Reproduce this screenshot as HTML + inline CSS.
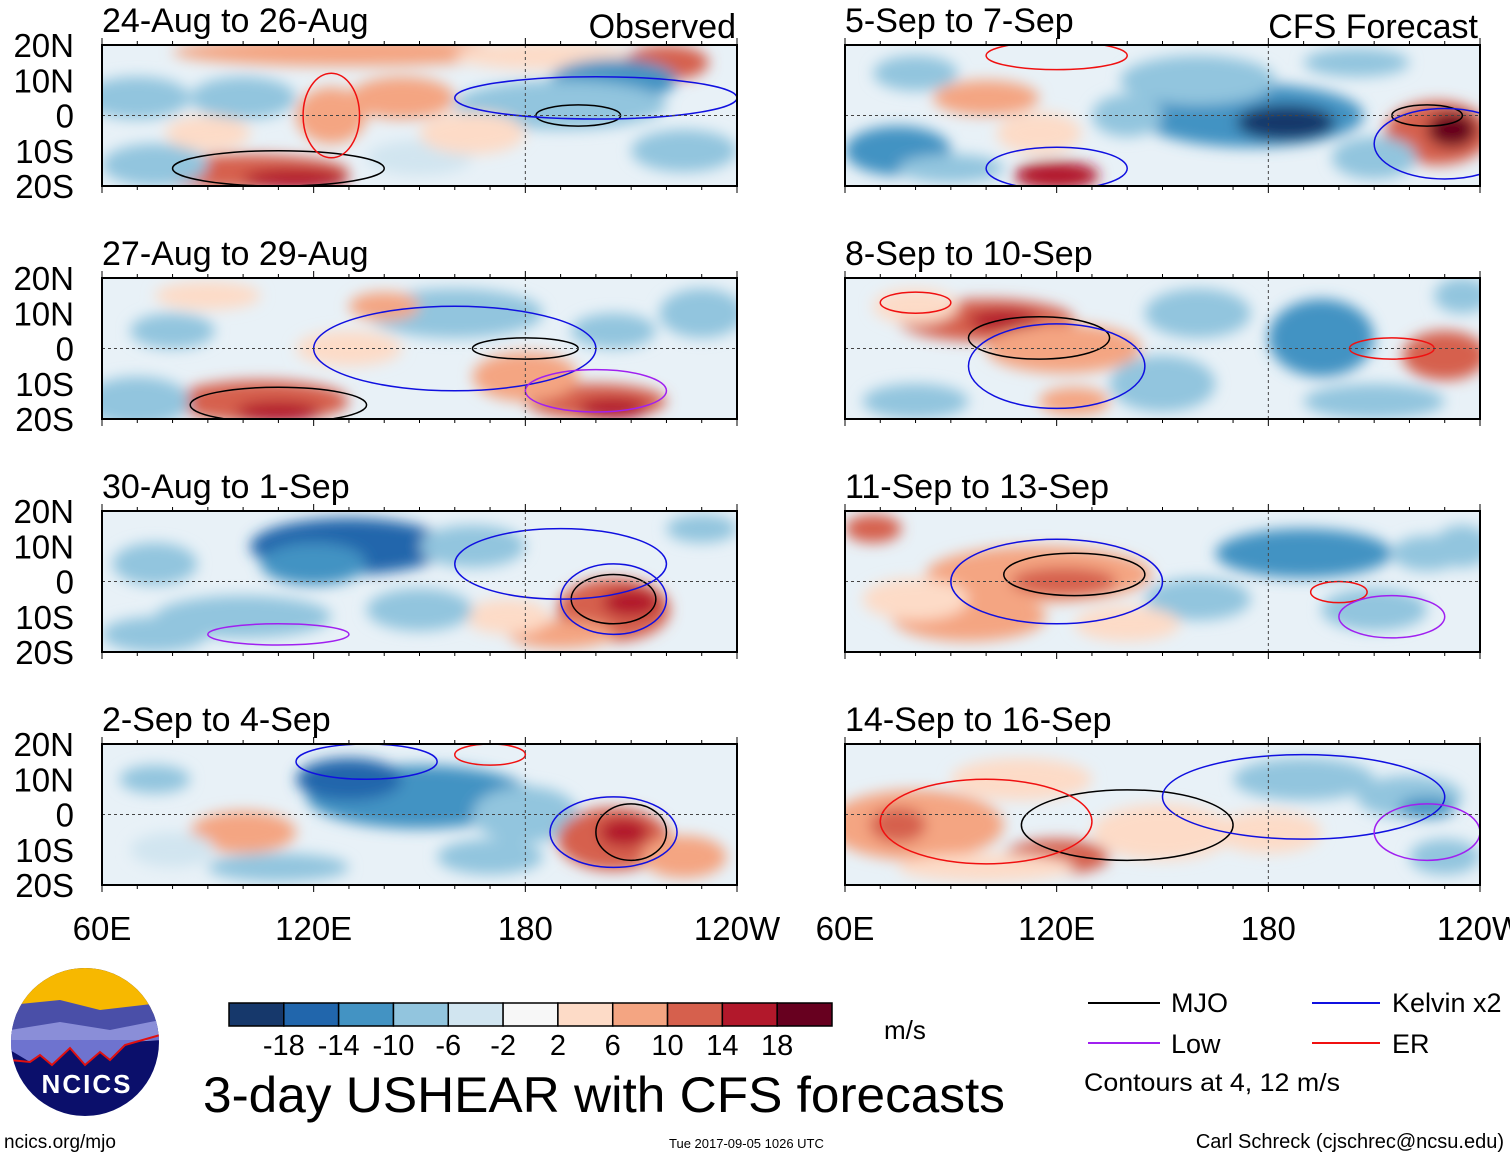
<!DOCTYPE html>
<html><head><meta charset="utf-8">
<style>
html,body{margin:0;padding:0;background:#fff;}
body{width:1510px;height:1158px;overflow:hidden;font-family:"Liberation Sans",sans-serif;}
svg text{font-family:"Liberation Sans",sans-serif;fill:#000;}
</style></head>
<body>
<svg id="fig" width="1510" height="1158" viewBox="0 0 1510 1158" xmlns="http://www.w3.org/2000/svg">
<defs>
<filter id="blur" x="-20%" y="-50%" width="140%" height="200%"><feGaussianBlur stdDeviation="7"/></filter>
</defs>
<g id="panels"></g>
<g id="axes"></g>
<g id="colorbar"></g>
<g>
<clipPath id="logoclip"><circle cx="85" cy="1042" r="74"/></clipPath>
<g clip-path="url(#logoclip)">
<rect x="10" y="968" width="150" height="150" fill="#0b0f6b"/>
<rect x="10" y="968" width="150" height="45" fill="#f7b800"/>
<path d="M10 1005 L60 1000 L100 1010 L160 1003 L160 1030 L10 1035Z" fill="#4a4fa8"/>
<path d="M10 1030 L60 1022 L110 1030 L160 1020 L160 1040 L10 1050Z" fill="#8a8ed8"/>
<path d="M10 1050 L30 1062 L40 1055 L52 1065 L70 1048 L85 1065 L100 1052 L110 1060 L125 1045 L160 1035 L160 1040 L10 1040Z" fill="#6e73cf"/>
<path d="M10 1060 L30 1062 L40 1055 L52 1065 L70 1048 L85 1065 L100 1052 L110 1060 L125 1045 L160 1035" fill="none" stroke="#e01010" stroke-width="2"/>
</g>
<text x="87" y="1093" font-size="26" font-weight="bold" text-anchor="middle" style="fill:#fff" letter-spacing="2">NCICS</text>
</g>
<text x="4" y="1148" font-size="19">ncics.org/mjo</text>
<text x="669" y="1148" font-size="13">Tue 2017-09-05 1026 UTC</text>
<text x="1504" y="1148" font-size="20" text-anchor="end">Carl Schreck (cjschrec@ncsu.edu)</text>
<text x="203" y="1112" font-size="50" textLength="802" lengthAdjust="spacingAndGlyphs">3-day USHEAR with CFS forecasts</text>
<text x="884" y="1039" font-size="26">m/s</text>
<g>
<line x1="1088" y1="1003" x2="1160" y2="1003" stroke="#000" stroke-width="2"/><text x="1171" y="1012" font-size="27">MJO</text>
<line x1="1312" y1="1003" x2="1380" y2="1003" stroke="#1010e0" stroke-width="2"/><text x="1392" y="1012" font-size="27">Kelvin x2</text>
<line x1="1088" y1="1043" x2="1160" y2="1043" stroke="#a020f0" stroke-width="2"/><text x="1171" y="1053" font-size="27">Low</text>
<line x1="1312" y1="1043" x2="1380" y2="1043" stroke="#f01010" stroke-width="2"/><text x="1392" y="1053" font-size="27">ER</text>
<text x="1084" y="1091" font-size="25" textLength="256" lengthAdjust="spacingAndGlyphs">Contours at 4, 12 m/s</text>
</g>
</svg>
<script>
const levels=[-18,-14,-10,-6,-2,2,6,10,14,18];
const colors=["#16386b","#2166ac","#4393c3","#92c5de","#d1e5f0","#f7f7f7","#fddbc7","#f4a582","#d6604d","#b2182b","#67001f"];
const panelTitles=["24-Aug to 26-Aug","5-Sep to 7-Sep","27-Aug to 29-Aug","8-Sep to 10-Sep","30-Aug to 1-Sep","11-Sep to 13-Sep","2-Sep to 4-Sep","14-Sep to 16-Sep"];
const latTicks=["20N","10N","0","10S","20S"];
const lonTicks=["60E","120E","180","120W"];
// blobs: [lon, lat, lonRadius, latRadius, value m/s]
const blobs0=[[70,5,15,6,-6],[130,18,50,4,8],[185,17,25,4,4],[220,15,12,5,12],[205,10,18,6,-10],[190,3,30,7,-6],[100,-16,30,5,14],[115,-18,15,3,18],[75,-14,15,6,-6],[150,-12,15,5,-4],[225,-10,15,6,-8],[145,5,15,6,8],[125,0,10,8,10],[100,5,15,6,-6],[165,-5,15,6,6],[90,-5,12,5,6]];
const blobs1=[[175,0,32,9,-12],[185,-2,14,5,-18],[160,10,22,7,-8],[228,-5,15,9,14],[232,-4,7,5,20],[120,-17,12,4,18],[100,5,15,5,8],[75,-10,15,7,-10],[205,15,15,4,-6],[90,-15,15,4,-6],[115,-5,12,6,6],[80,12,12,5,-6],[140,0,10,6,-6],[210,-12,12,6,-6]];
const blobs2=[[105,-15,25,6,14],[110,-18,12,3,18],[200,-15,20,5,14],[205,-17,10,3,18],[180,-8,15,7,8],[230,10,12,7,-8],[160,10,25,7,-6],[70,-15,15,7,-8],[90,15,15,4,6],[140,12,10,4,8],[80,5,12,5,-6],[130,0,15,5,6],[205,5,12,5,-6]];
const blobs3=[[100,8,25,6,12],[105,8,10,3,18],[122,0,22,7,8],[195,3,15,11,-12],[230,-2,12,7,14],[125,-15,10,4,10],[150,-10,15,8,-8],[80,-15,15,5,-8],[210,-15,20,5,-6],[160,10,15,7,-6],[80,12,12,5,6],[235,15,8,5,-6]];
const blobs4=[[130,10,28,8,-14],[120,5,15,6,-12],[100,-10,25,6,-6],[205,-8,16,9,12],[210,-6,8,4,16],[190,-15,15,4,8],[230,15,10,4,-6],[75,-15,15,5,-8],[165,10,15,6,-6],[75,5,12,6,-6],[175,-10,12,5,6],[150,-8,15,6,-6]];
const blobs5=[[68,15,8,4,14],[115,2,32,8,8],[122,0,15,4,14],[95,-10,22,7,8],[190,8,25,7,-10],[210,-8,15,6,-8],[160,-5,15,6,-6],[235,10,8,6,-6],[80,-5,15,6,6],[140,-12,15,5,6],[225,8,10,5,-6]];
const blobs6=[[150,5,32,9,-10],[130,10,15,6,-14],[180,0,15,8,-8],[205,-7,16,9,12],[208,-5,7,4,16],[75,10,10,4,-6],[110,-15,20,4,-6],[100,-5,15,6,8],[170,-12,15,5,-6],[80,-10,12,5,-4],[225,-12,12,6,8]];
const blobs7=[[80,-3,25,10,10],[75,-3,8,5,14],[110,10,20,6,6],[120,-12,15,5,12],[100,-15,25,4,6],[220,5,15,6,-8],[225,2,8,3,-12],[190,10,20,6,-6],[180,-5,15,6,6],[150,-5,20,8,4],[230,-12,10,5,-6]];
const panelBlobs=[blobs0,blobs1,blobs2,blobs3,blobs4,blobs5,blobs6,blobs7];
// contour ellipses per panel: [lon, lat, lonR, latR, type]
const contours=[[[195,0,12,3,"mjo"],[110,-15,30,5,"mjo"],[200,5,40,6,"kelvin"],[125,0,8,12,"er"]],
[[225,0,10,3,"mjo"],[230,-8,20,10,"kelvin"],[120,-15,20,6,"kelvin"],[120,17,20,4,"er"]],
[[180,0,15,3,"mjo"],[110,-16,25,5,"mjo"],[160,0,40,12,"kelvin"],[200,-12,20,6,"low"]],
[[115,3,20,6,"mjo"],[120,-5,25,12,"kelvin"],[80,13,10,3,"er"],[215,0,12,3,"er"]],
[[205,-5,12,7,"mjo"],[205,-5,15,10,"kelvin"],[190,5,30,10,"kelvin"],[110,-15,20,3,"low"]],
[[125,2,20,6,"mjo"],[120,0,30,12,"kelvin"],[200,-3,8,3,"er"],[215,-10,15,6,"low"]],
[[210,-5,10,8,"mjo"],[205,-5,18,10,"kelvin"],[135,15,20,5,"kelvin"],[170,17,10,3,"er"]],
[[140,-3,30,10,"mjo"],[100,-2,30,12,"er"],[190,5,40,12,"kelvin"],[225,-5,15,8,"low"]]];
const strokeCol={mjo:"#000",kelvin:"#1010e0",er:"#f01010",low:"#a020f0"};
const W=635,H=141;
const colX=[102,845],rowY=[45,278,511,744];
const NS="http://www.w3.org/2000/svg";
function mk(tag,attrs,parent){const e=document.createElementNS(NS,tag);for(const k in attrs)e.setAttribute(k,attrs[k]);parent.appendChild(e);return e;}
function colorFor(v){let i=0;while(i<levels.length&&v>levels[i])i++;return colors[i];}
const pg=document.getElementById('panels'),ag=document.getElementById('axes');
for(let p=0;p<8;p++){
  const x0=colX[p%2],y0=rowY[Math.floor(p/2)];
  const xs=lon=>x0+(lon-60)/180*W, ys=lat=>y0+(20-lat)/40*H;
  const g=mk('g',{},pg);
  
  
  const cp=mk('clipPath',{id:'cp'+p},g);mk('rect',{x:x0,y:y0,width:W,height:H},cp);
  const inner=mk('g',{'clip-path':'url(#cp'+p+')'},g);
  mk('rect',{x:x0,y:y0,width:W,height:H,fill:'#e8f1f7'},inner);
  const bg=mk('g',{filter:'url(#blur)'},inner);
  panelBlobs[p].forEach(b=>{
    const e=mk('ellipse',{cx:xs(b[0]),cy:ys(b[1]),rx:b[2]/180*W,ry:b[3]/40*H,fill:colorFor(b[4])},bg);
    
    
  });
  contours[p].forEach(c=>{
    const e=mk('ellipse',{cx:xs(c[0]),cy:ys(c[1]),rx:c[2]/180*W,ry:c[3]/40*H,fill:'none',stroke:strokeCol[c[4]],'stroke-width':1.5},inner);
    
    
  });
  mk('line',{x1:x0,y1:ys(0),x2:x0+W,y2:ys(0),stroke:'#444','stroke-dasharray':'3,3','stroke-width':1},inner);
  mk('line',{x1:xs(180),y1:y0,x2:xs(180),y2:y0+H,stroke:'#444','stroke-dasharray':'3,3','stroke-width':1},inner);
  mk('rect',{x:x0,y:y0,width:W,height:H,fill:'none',stroke:'#000','stroke-width':2},g);
  for(let l=60;l<=240;l+=10){const t=l%60==0?7:4;
    mk('line',{x1:xs(l),y1:y0,x2:xs(l),y2:y0-t,stroke:'#000'},g);
    mk('line',{x1:xs(l),y1:y0+H,x2:xs(l),y2:y0+H+t,stroke:'#000'},g);}
  const tt=mk('text',{x:x0,y:y0-13,'font-size':34},ag);tt.textContent=panelTitles[p];
  
  
  if(p%2==0){latTicks.forEach((l,i)=>{const t=mk('text',{x:74,y:y0+i*H/4+12,'font-size':33,'text-anchor':'end'},ag);t.textContent=l;
    
    });}
}
[["Observed",736,colX[0]],["CFS Forecast",1478,colX[1]]].forEach(a=>{const t=mk('text',{x:a[1],y:38,'font-size':34,'text-anchor':'end'},ag);t.textContent=a[0];
  
  });
colX.forEach(x0=>{lonTicks.forEach((l,i)=>{const t=mk('text',{x:x0+i*W/3,y:940,'font-size':33,'text-anchor':'middle'},ag);t.textContent=l;
  
  });});
const cb=document.getElementById('colorbar');const bw=603/colors.length;
colors.forEach((c,i)=>{const r=mk('rect',{x:229+i*bw,y:1003,width:bw,height:23,fill:c,stroke:'#000','stroke-width':1.5},cb);
  
  });
levels.forEach((v,i)=>{const t=mk('text',{x:229+(i+1)*bw,y:1055,'font-size':29,'text-anchor':'middle'},cb);t.textContent=v;
  
  });
</script>
</body></html>
